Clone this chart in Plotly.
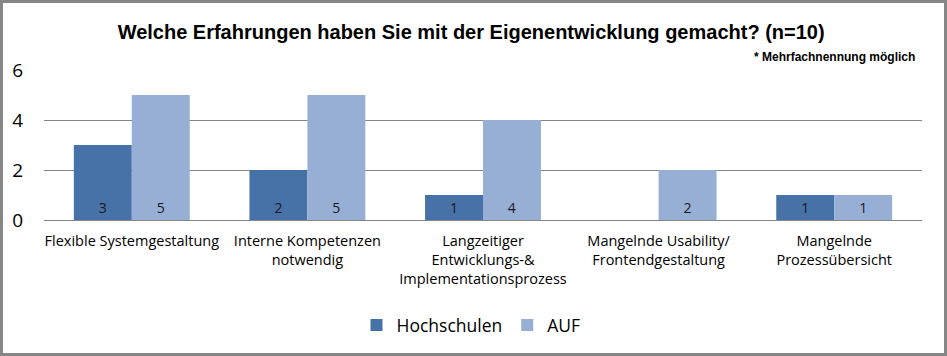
import plotly.graph_objects as go

categories = ["Flexible Systemgestaltung", "Interne Kompetenzen<br>notwendig",
              "Langzeitiger<br>Entwicklungs-&<br>Implementationsprozess",
              "Mangelnde Usability/<br>Frontendgestaltung", "Mangelnde<br>Prozessübersicht"]
hochschulen = [3, 2, 1, None, 1]
auf = [5, 5, 4, 2, 1]
y_ticks = [0, 2, 4, 6]

W, H = 947, 356
ml, mr, mt, mb = 44, 25, 70, 136
pw, ph = W - ml - mr, H - mt - mb

font = "Open Sans"
narrow = "Liberation Sans Narrow, Arial Narrow, sans-serif"
fig = go.Figure()
for name, vals, col in [("Hochschulen", hochschulen, "#4672A8"), ("AUF", auf, "#97AED5")]:
    fig.add_trace(go.Bar(
        x=categories, y=vals, name=name, marker=dict(color=col, line=dict(width=0)),
        text=[("" if v is None else str(v)) for v in vals], textposition="inside",
        insidetextanchor="start", textangle=0,
        textfont=dict(family=font, size=17, color="#1a1a1a"),
    ))

fig.update_layout(
    width=W, height=H, barmode="group", bargap=0.34, bargroupgap=0,
    margin=dict(l=ml, r=mr, t=mt, b=mb),
    paper_bgcolor="white", plot_bgcolor="white",
    title=dict(text="<b>Welche Erfahrungen haben Sie mit der Eigenentwicklung gemacht? (n=10)</b>",
               x=0.4975, xanchor="center", y=1 - 32 / H, yanchor="middle",
               font=dict(family=narrow, size=20, color="black")),
    legend=dict(orientation="h", x=0.5 - 12 / pw, xanchor="center", y=-(325 - 220) / ph, yanchor="middle",
                font=dict(family=font, size=17.5, color="black"), itemwidth=30, traceorder="normal"),
    uniformtext=dict(mode="show", minsize=10),
    font=dict(family=font, color="black"),
)
fig.update_xaxes(showline=True, linecolor="#868686", linewidth=1, ticks="", ticklabelstandoff=8,
                 tickfont=dict(family=font, size=14.5, color="black"), tickangle=0, showgrid=False)
fig.update_yaxes(range=[0, 6], tickvals=y_ticks, showgrid=True, gridcolor="#868686", gridwidth=1,
                 zeroline=False, showline=False, ticklabelstandoff=20,
                 tickfont=dict(family=font, size=19, color="black"))
fig.add_annotation(text="<b>* Mehrfachnennung möglich</b>", xref="paper", yref="paper",
                   x=1 - 5 / pw, y=1 + 13 / ph, xanchor="right", yanchor="middle", showarrow=False,
                   font=dict(family=narrow, size=12, color="black"))
fig.add_shape(type="rect", xref="paper", yref="paper", layer="above",
              x0=-(ml - 1.5) / pw, x1=1 + (mr - 1.5) / pw, y0=-(mb - 1.5) / ph, y1=1 + (mt - 1.5) / ph,
              line=dict(color="#868686", width=3))
fig.write_html("out.html", config={"displayModeBar": False},
               post_script="document.body.style.margin='0';document.body.style.overflow='hidden';")
